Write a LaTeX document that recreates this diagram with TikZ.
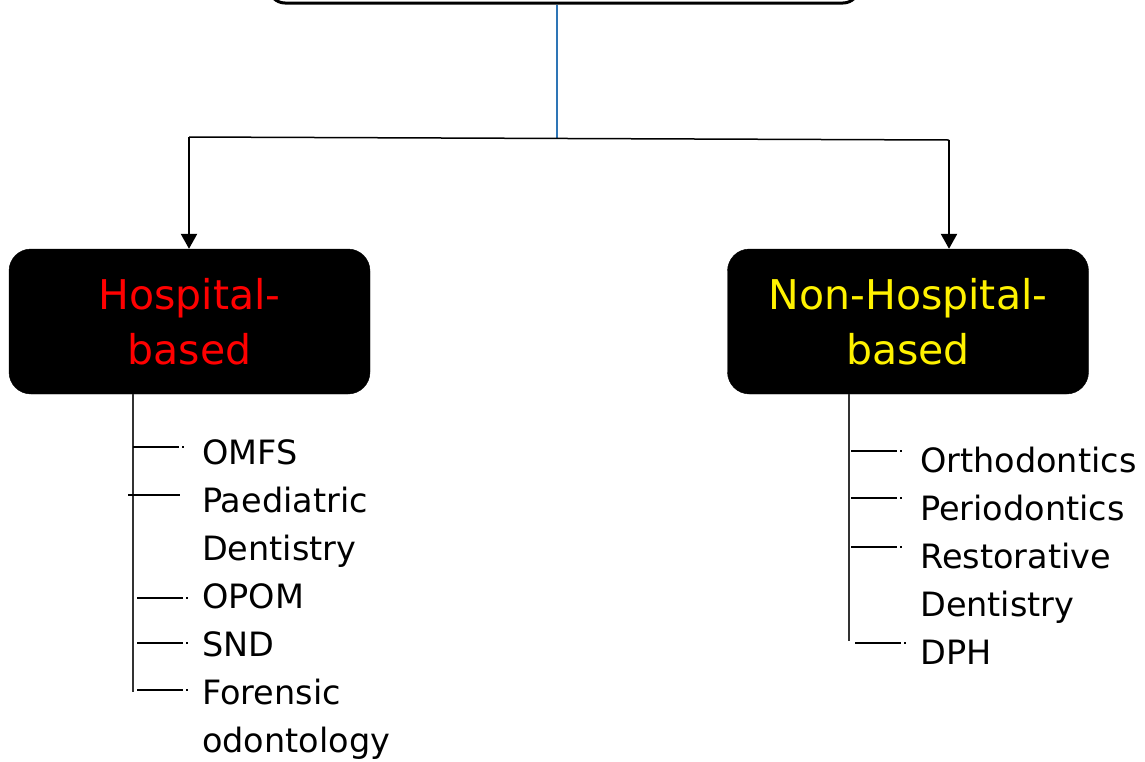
\documentclass[tikz,border=0pt]{standalone}
\usepackage{fontspec}
\setmainfont{DejaVu Sans}
\usetikzlibrary{arrows.meta}
\definecolor{linkblue}{RGB}{46,117,182}
\definecolor{trunkgray}{RGB}{50,50,50}
\tikzset{
  catbox/.style={draw=black, fill=black, rounded corners=22pt, minimum width=361pt, minimum height=145pt, inner sep=0pt, align=center, font=\fontsize{41}{55}\selectfont},
  leaf/.style={anchor=base west, inner sep=0pt, align=left, font=\fontsize{33.5}{48}\selectfont},
  arrowline/.style={line width=2.4pt, -{Triangle[length=15pt,width=16pt]}},
  trunk/.style={line width=1.6pt, draw=trunkgray},
  branch/.style={line width=1.3pt},
  branchdot/.style={line width=1.3pt, dash pattern=on 46pt off 3pt on 2pt},
}
\begin{document}
\begin{tikzpicture}[x=1pt,y=-1pt]
\clip (0,0) rectangle (1145,761);
\useasboundingbox (0,0) rectangle (1145,761);
% top box (cut off)
\node[draw=black, line width=3pt, rounded corners=16pt, minimum width=590pt, minimum height=60pt, inner sep=0pt] (top) at (564,-27) {};
\coordinate (j) at (557,138);
\coordinate (hl) at (189,137);
\coordinate (hr) at (949,140);
\draw[linkblue, line width=1.3pt] (top.south -| j) -- (j);
\draw[line width=1.5pt] (hl) -- (hr);
% category boxes
\node[catbox, text=red] (hosp) at (189.5,321.5) {Hospital-\\based};
\node[catbox, text=yellow] (nonh) at (908,321.5) {Non-Hospital-\\based};
\draw[arrowline] (hl) -- (hosp.north -| hl);
\draw[arrowline] (hr) -- (nonh.north -| hr);
% left leaves (base = last line)
\node[leaf] (omfs) at (202,464) {OMFS};
\node[leaf] (paed) at (202,560) {Paediatric\\Dentistry};
\node[leaf] (opom) at (202,608) {OPOM};
\node[leaf] (snd) at (202,656) {SND};
\node[leaf] (fore) at (202,752) {Forensic\\odontology};
\coordinate (lt) at (133,692);
\draw[trunk] (hosp.south -| lt) -- (lt);
\coordinate (l1) at (133,447);
\coordinate (l2) at (128,495);
\coordinate (l3) at (137,598);
\coordinate (l4) at (137,643);
\coordinate (l5) at (137,690);
\draw[branchdot] (l1) -- (l1 -| omfs.west);
\draw[branch] (l2) -- ++(52,0);
\draw[branchdot] (l3) -- (l3 -| opom.west);
\draw[branchdot] (l4) -- (l4 -| snd.west);
\draw[branchdot] (l5) -- (l5 -| fore.west);
% right leaves
\node[leaf] (orth) at (920,472) {Orthodontics};
\node[leaf] (perio) at (920,520) {Periodontics};
\node[leaf] (rest) at (920,616) {Restorative\\Dentistry};
\node[leaf] (dph) at (920,664) {DPH};
\coordinate (rt) at (849,641);
\draw[trunk] (nonh.south -| rt) -- (rt);
\coordinate (r1) at (851,451);
\coordinate (r2) at (851,498);
\coordinate (r3) at (851,547);
\coordinate (r4) at (855,643);
\draw[branchdot] (r1) -- (r1 -| orth.west);
\draw[branchdot] (r2) -- (r2 -| perio.west);
\draw[branchdot] (r3) -- (r3 -| rest.west);
\draw[branchdot] (r4) -- (r4 -| dph.west);
\end{tikzpicture}
\end{document}
